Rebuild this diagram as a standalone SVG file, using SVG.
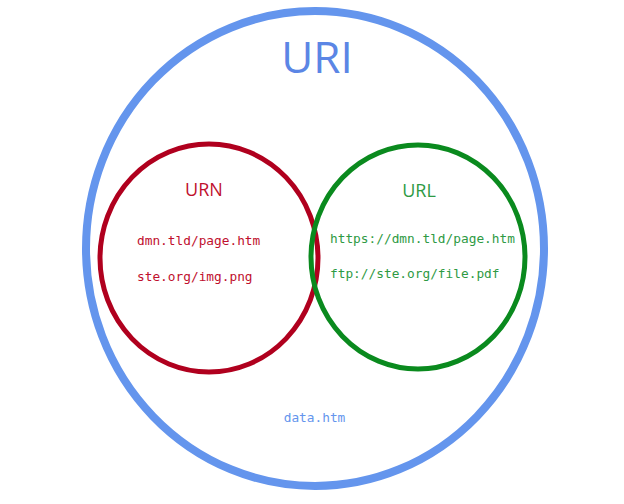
<svg xmlns="http://www.w3.org/2000/svg" width="624" height="504" viewBox="0 0 624 504">
<style>
.ring{fill:none}
.title{font-family:"Open Sans","Liberation Sans",sans-serif;text-anchor:middle}
.mono{font-family:"DejaVu Sans Mono","Liberation Mono",monospace;font-size:12.8px}
</style>
<rect width="624" height="504" fill="#ffffff"/>
<g id="uri">
<ellipse class="ring" cx="315" cy="248.5" rx="229" ry="237.5" stroke="#6495ED" stroke-width="8"/>
<text class="title" x="317" y="73" font-size="44" fill="#5B86E5">URI</text>
<text class="mono" x="314.5" y="422" text-anchor="middle" fill="#6495ED">data.htm</text>
</g>
<g id="urn">
<ellipse class="ring" cx="209" cy="258" rx="109" ry="114" stroke="#B0001E" stroke-width="5"/>
<text class="title" x="204" y="196" font-size="18" fill="#C0102E">URN</text>
<text class="mono" x="137" y="245" fill="#C0102E">dmn.tld/page.htm</text>
<text class="mono" x="137" y="281" fill="#C0102E">ste.org/img.png</text>
</g>
<g id="url">
<ellipse class="ring" cx="418" cy="257" rx="107" ry="112" stroke="#0A8A1E" stroke-width="5"/>
<text class="title" x="419" y="197" font-size="18" fill="#2E9A44">URL</text>
<text class="mono" x="330" y="243" fill="#2E9A44">https://dmn.tld/page.htm</text>
<text class="mono" x="330" y="278" fill="#2E9A44">ftp://ste.org/file.pdf</text>
</g>
<g id="connectors"></g>
</svg>
